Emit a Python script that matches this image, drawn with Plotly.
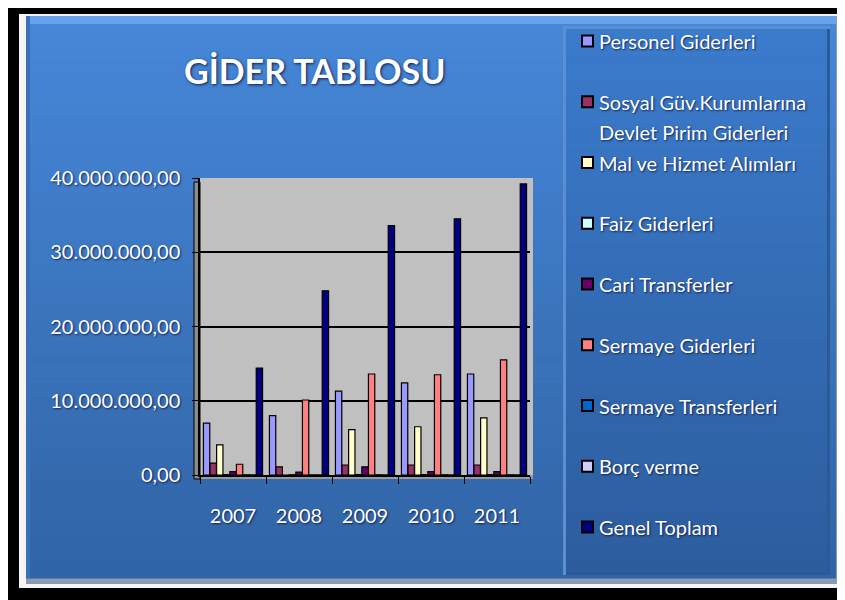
import plotly.graph_objects as go

years = ['2007', '2008', '2009', '2010', '2011']

series_names = [
    'Personel Giderleri',
    'Sosyal Güv.Kurumlarına\nDevlet Pirim Giderleri',
    'Mal ve Hizmet Alımları',
    'Faiz Giderleri',
    'Cari Transferler',
    'Sermaye Giderleri',
    'Sermaye Transferleri',
    'Borç verme',
    'Genel Toplam',
]

personel = [7000000, 8000000, 11300000, 12400000, 13600000]
sosyal = [1600000, 1100000, 1350000, 1350000, 1350000]
mal_hizmet = [4050000, 0, 6100000, 6500000, 7700000]
faiz = [50000, 40000, 60000, 50000, 50000]
cari = [450000, 400000, 1100000, 450000, 450000]
sermaye = [1450000, 10100000, 13600000, 13500000, 15500000]
sermaye_transfer = [30000, 20000, 30000, 30000, 30000]
borc = [20000, 20000, 20000, 20000, 20000]
genel_toplam = [14400000, 24800000, 33600000, 34500000, 39200000]

series_values = [personel, sosyal, mal_hizmet, faiz, cari, sermaye,
                 sermaye_transfer, borc, genel_toplam]
colors = ['#9999ff', '#993366', '#ffffcc', '#ccffff', '#660066',
          '#ff8080', '#0066cc', '#ccccff', '#000080']

# the page body has an 8px margin, so work in screen pixels and shift
OFF = 8
W, H = 845 - OFF, 600 - OFF
L, R, T, B = 200 - OFF, 315, 178 - OFF, 125


def px(x):
    return (x - OFF - L) / (W - L - R)


def py(y):
    return (H - B - (y - OFF)) / (H - T - B)


def rect(x0, y0, x1, y1, color, layer='below', line=None):
    return dict(type='rect', xref='paper', yref='paper', layer=layer,
                x0=px(x0), x1=px(x1), y0=py(y0), y1=py(y1),
                fillcolor=color, line=line or dict(width=0))


def blend(c1, c2, t):
    a = [int(c1[i:i + 2], 16) for i in (1, 3, 5)]
    b = [int(c2[i:i + 2], 16) for i in (1, 3, 5)]
    return '#%02x%02x%02x' % tuple(round(a[k] + (b[k] - a[k]) * t) for k in range(3))


fig = go.Figure()
for name, vals, col in zip(series_names, series_values, colors):
    fig.add_trace(go.Bar(
        x=years, y=vals, name=name.replace('\n', ' '),
        marker=dict(color=col, line=dict(color='black', width=1.2)),
        showlegend=False,
    ))

shapes = []
# outer frame
shapes.append(rect(19, 14, 845, 588, '#f4f4f4'))
shapes.append(rect(26, 16, 837, 584, '#8a9ab0'))
# blue panel with gradient
n = 40
for i in range(n):
    y0 = 16 + (578 - 16) * i / n
    y1 = 16 + (578 - 16) * (i + 1) / n + 0.5
    shapes.append(rect(26, y0, 836, y1, blend('#4687d8', '#3164a6', i / (n - 1))))
shapes.append(rect(26, 16, 836, 24, '#66a3ec'))
shapes.append(rect(26, 16, 30, 578, '#3a70b8'))
# legend box
shapes.append(rect(563, 26, 830, 575, '#5b8fd2'))
shapes.append(rect(566, 29, 830, 575, '#2c5a96'))
for i in range(n):
    y0 = 29 + (572 - 29) * i / n
    y1 = 29 + (572 - 29) * (i + 1) / n + 0.5
    shapes.append(rect(566, y0, 827, y1, blend('#3b7bcc', '#2d5d9e', i / (n - 1))))
# 3D walls and floor of the plot area
shapes.append(rect(200, 178, 533, 476, '#c0c0c0'))
shapes.append(rect(194, 182, 200, 479, '#8c8c8c',
                   line=dict(color='black', width=1)))
shapes.append(rect(200, 475, 533, 479, '#9a9a9a'))

annotations = [dict(
    text='<b>GİDER TABLOSU</b>', xref='paper', yref='paper',
    x=px(314), y=py(71), showarrow=False, xanchor='center', yanchor='middle',
    font=dict(family='Lato', size=34, color='white',
              shadow='1px 1px 3px rgba(0,0,50,0.8)'),
)]

# legend drawn by hand so the item spacing matches
row_y = 41
for name, col in zip(series_names, colors):
    shapes.append(rect(582, row_y - 5.5, 593, row_y + 5.5, col, layer='above',
                       line=dict(color='black', width=2)))
    for k, line_text in enumerate(name.split('\n')):
        annotations.append(dict(
            text=line_text, xref='paper', yref='paper',
            x=px(597), y=py(row_y + 30 * k), showarrow=False,
            xanchor='left', yanchor='middle',
            font=dict(family='Lato', size=20, color='white',
                      shadow='1px 1px 2px rgba(0,0,50,0.7)'),
        ))
    row_y += 60.75

fig.update_layout(
    width=W, height=H,
    margin=dict(l=L, r=R, t=T, b=B),
    paper_bgcolor='black',
    plot_bgcolor='#c0c0c0',
    separators=',.',
    barmode='group', bargap=0.1, bargroupgap=0.04,
    shapes=shapes, annotations=annotations,
    showlegend=False,
    font=dict(family='Lato', color='white'),
)
fig.update_yaxes(
    range=[0, 40000000], tickvals=[0, 10000000, 20000000, 30000000, 40000000],
    tickformat=',.2f', showgrid=True, gridcolor='black', gridwidth=1.5,
    zeroline=False, showline=True, linecolor='black', linewidth=1.5,
    ticks='outside', ticklen=6, tickcolor='black', ticklabelstandoff=8,
    tickfont=dict(family='Lato', size=20, color='white',
                  shadow='1px 1px 2px rgba(0,0,50,0.7)'),
)
fig.update_xaxes(
    showline=True, linecolor='black', linewidth=1.5,
    ticks='outside', tickson='boundaries', ticklen=7, tickcolor='black',
    ticklabelstandoff=22,
    tickfont=dict(family='Lato', size=20, color='white',
                  shadow='1px 1px 2px rgba(0,0,50,0.7)'),
)

fig.write_html("out.html")
